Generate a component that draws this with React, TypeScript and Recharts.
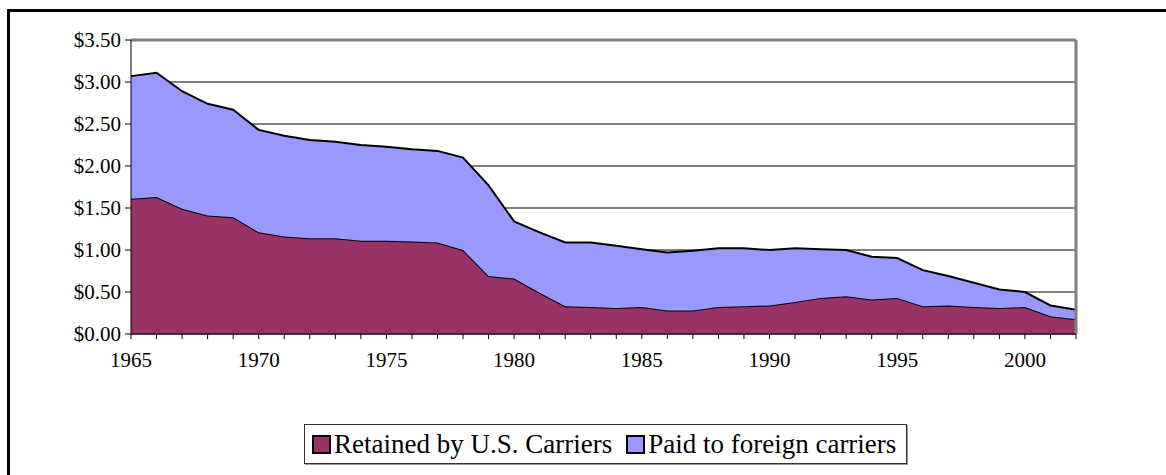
import { AreaChart, Area, XAxis, YAxis, CartesianGrid, ReferenceLine, Legend } from 'recharts';

const years = [
  1965, 1966, 1967, 1968, 1969, 1970, 1971, 1972, 1973, 1974, 1975, 1976, 1977,
  1978, 1979, 1980, 1981, 1982, 1983, 1984, 1985, 1986, 1987, 1988, 1989, 1990,
  1991, 1992, 1993, 1994, 1995, 1996, 1997, 1998, 1999, 2000, 2001, 2002,
];

// $ per minute kept by US carriers
const retained = [
  1.61, 1.63, 1.49, 1.41, 1.39, 1.21, 1.16, 1.14, 1.14, 1.11, 1.11, 1.10, 1.09,
  1.00, 0.69, 0.66, 0.49, 0.33, 0.32, 0.31, 0.32, 0.28, 0.28, 0.32, 0.33, 0.34,
  0.38, 0.43, 0.45, 0.41, 0.43, 0.33, 0.34, 0.32, 0.31, 0.32, 0.21, 0.175,
];

// $ per minute paid out to foreign carriers
const foreign = [
  1.46, 1.48, 1.40, 1.33, 1.28, 1.22, 1.20, 1.17, 1.15, 1.14, 1.12, 1.10, 1.09,
  1.10, 1.08, 0.68, 0.72, 0.76, 0.77, 0.74, 0.69, 0.69, 0.71, 0.70, 0.69, 0.66,
  0.64, 0.58, 0.55, 0.51, 0.475, 0.43, 0.35, 0.29, 0.22, 0.18, 0.13, 0.115,
];

const yTicks = [0, 0.5, 1, 1.5, 2, 2.5, 3, 3.5];

const data = years.map((year, i) => ({ year, retained: retained[i], foreign: foreign[i] }));

const FONT = '"Liberation Serif", "Times New Roman", serif';

const RETAINED_COLOR = '#993366';
const FOREIGN_COLOR = '#9999ff';

function LegendBox() {
  const items = [
    { label: 'Retained by U.S. Carriers', color: RETAINED_COLOR },
    { label: 'Paid to foreign carriers', color: FOREIGN_COLOR },
  ];
  return (
    <div
      style={{
        display: 'inline-flex',
        alignItems: 'center',
        border: '1px solid #333',
        boxShadow: '1px 1px 0 #999',
        padding: '0 10px 0 7px',
        height: 38,
        background: '#fff',
        fontFamily: FONT,
        fontSize: 27,
        color: '#000',
        lineHeight: '38px',
        whiteSpace: 'nowrap',
      }}
    >
      {items.map((it, i) => (
        <span key={it.label} style={{ display: 'inline-flex', alignItems: 'center', marginLeft: i ? 14 : 0 }}>
          <span
            style={{
              display: 'inline-block',
              width: 15,
              height: 15,
              background: it.color,
              border: '2px solid #000',
              marginRight: 3,
            }}
          />
          {it.label}
        </span>
      ))}
    </div>
  );
}

export default function App() {
  return (
    <div style={{ position: 'fixed', left: 0, top: 0, width: 1166, height: 475, overflow: 'hidden', background: '#fff' }}>
      <div
        style={{
          position: 'absolute',
          left: 7,
          top: 9,
          width: 1180,
          height: 490,
          border: '3px solid #000',
        }}
      >
        <AreaChart
          width={1150}
          height={460}
          data={data}
          margin={{ top: 28, right: 84, left: 51, bottom: 108 }}
          style={{ fontFamily: FONT }}
        >
          <CartesianGrid horizontal={true} vertical={false} stroke="#000" strokeWidth={1} />
          <XAxis
            dataKey="year"
            interval={0}
            height={30}
            tickSize={5}
            tickMargin={13}
            stroke="#000"
            tick={{ fill: '#000', fontSize: 21, fontFamily: FONT }}
            tickFormatter={(v) => ((v - 1965) % 5 === 0 ? String(v) : '')}
          />
          <YAxis
            width={70}
            domain={[0, 3.5]}
            ticks={yTicks}
            interval={0}
            tickSize={6}
            tickMargin={4}
            stroke="#000"
            tick={{ fill: '#000', fontSize: 21, fontFamily: FONT }}
            tickFormatter={(v) => `$${Number(v).toFixed(2)}`}
          />
          <Area
            type="linear"
            dataKey="retained"
            name="Retained by U.S. Carriers"
            stackId="1"
            stroke="#000"
            strokeWidth={2}
            fill={RETAINED_COLOR}
            fillOpacity={1}
            isAnimationActive={false}
          />
          <Area
            type="linear"
            dataKey="foreign"
            name="Paid to foreign carriers"
            stackId="1"
            stroke="#000"
            strokeWidth={2}
            fill={FOREIGN_COLOR}
            fillOpacity={1}
            isAnimationActive={false}
          />
          <ReferenceLine y={3.5} stroke="#808080" strokeWidth={3} />
          <ReferenceLine x={2002} stroke="#808080" strokeWidth={3} />
          <Legend
            layout="horizontal"
            verticalAlign="middle"
            align="center"
            content={() => <LegendBox />}
            wrapperStyle={{ position: 'absolute', left: 294, top: 412, width: 'auto', height: 'auto' }}
          />
        </AreaChart>
      </div>
    </div>
  );
}
